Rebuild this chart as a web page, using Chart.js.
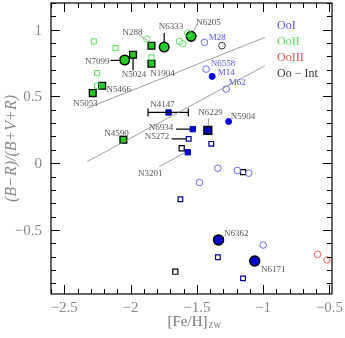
<!DOCTYPE html>
<html>
<head>
<meta charset="utf-8">
<script src="https://cdn.jsdelivr.net/npm/chart.js@4"></script>
<style>
  body { margin: 0; background: #fff; }
  canvas { display: block; }
</style>
</head>
<body>
<canvas id="ooChart" width="345" height="338"></canvas>
<script>
// tick values
const xTicks = [-2.5, -2, -1.5, -1, -0.5];
const yTicks = [-0.5, 0, 0.5, 1];

// OoII clusters
const greenOpenSquares = [[-2.277, 0.912], [-2.113, 0.862], [-1.842, 0.792], [-2.252, 0.675], [-2.252, 0.58]];
const greenOpenCircles = [[-1.877, 0.93], [-1.63, 0.912], [-1.606, 0.895], [-1.568, 0.975]];
const greenFilledSquares = [[-1.842, 0.88], [-1.981, 0.812], [-1.842, 0.745], [-2.214, 0.58], [-2.285, 0.525], [-2.054, 0.175]];
const greenBigCircles = [[-2.044, 0.773], [-1.746, 0.87], [-1.543, 0.95]];

// OoI clusters
const blueOpenCircles = [[-1.442, 0.905], [-1.43, 0.705], [-1.278, 0.555], [-1.341, -0.038], [-1.48, -0.145], [-1.194, -0.055], [-1.108, -0.075], [-0.999, -0.613]];
const blueOpenSquares = [[-1.561, 0.182], [-1.391, 0.145], [-1.624, -0.27], [-1.341, -0.705], [-1.151, -0.863]];
const blueFilledSquares = [[-1.713, 0.38], [-1.53, 0.255], [-1.568, 0.082]];
const blueBigSquares = [[-1.417, 0.245]];
const blueFilledCircles = [[-1.384, 0.65], [-1.26, 0.312]];
const blueBigCircles = [[-1.336, -0.575], [-1.063, -0.733]];

// OoIII and Oo-Int
const redOpenCircles = [[-0.589, -0.683], [-0.518, -0.725]];
const intOpenSquares = [[-1.614, 0.112], [-1.151, -0.067], [-1.662, -0.813]];
const intOpenCircles = [[-1.31, 0.88]];

// reference lines
const upperLine = [[-2.327, 0.412], [-0.987, 0.942]];
const lowerLine = [[-2.327, 0.012], [-0.987, 0.73]];

// N4147 error bar in [Fe/H]
const n4147Err = [[-1.868, 0.38], [-1.564, 0.38]];

// cluster names: text, x, y (text centre)
const blackLabels = [
    ['N288', -1.986, 0.98], ['N6333', -1.695, 1.02], ['N6205', -1.412, 1.05],
    ['N7099', -2.252, 0.762], ['N5024', -1.974, 0.662], ['N1904', -1.758, 0.67],
    ['N5466', -2.088, 0.55], ['N5053', -2.34, 0.445], ['N4147', -1.758, 0.437],
    ['N4590', -2.105, 0.225], ['N6934', -1.771, 0.27], ['N5272', -1.8, 0.2],
    ['N3201', -1.852, -0.075], ['N6229', -1.397, 0.38], ['N5904', -1.151, 0.345],
    ['N6362', -1.202, -0.525], ['N6171', -0.923, -0.795]
];
const blueLabels = [['M28', -1.346, 0.938], ['N6558', -1.303, 0.742], ['M14', -1.278, 0.675], ['M62', -1.194, 0.605]];

// leader lines: x1, y1, x2, y2, colour
const leaders = [
    [-1.936, 0.96, -1.847, 0.9, '#888'],
    [-1.746, 0.975, -1.746, 0.888, '#000'],
    [-1.5, 1.037, -1.538, 0.968, '#888'],
    [-2.151, 0.77, -2.067, 0.77, '#000'],
    [-1.981, 0.8, -1.981, 0.695, '#000'],
    [-1.657, 0.255, -1.543, 0.255, '#000'],
    [-1.69, 0.182, -1.574, 0.182, '#000'],
    [-1.784, -0.025, -1.594, 0.075, '#888'],
    [-1.41, 0.337, -1.414, 0.275, '#888']
];

const legendItems = [['OoI', '#5555dd'], ['OoII', '#55dd55'], ['OoIII', '#dd5555'], ['Oo \u2212 Int', '#333']];

const pts = (arr) => arr.map(p => ({ x: p[0], y: p[1] }));
const fmt = (v) => (v < 0 ? '\u2212' : '') + Math.abs(v);

const marks = (data, style, radius, fill, border, width) => ({
    data: pts(data),
    pointStyle: style,
    pointRadius: radius,
    pointBackgroundColor: fill,
    pointBorderColor: border,
    pointBorderWidth: width,
    showLine: false
});

const lineSet = (data, color, width) => ({
    data: pts(data),
    showLine: true,
    borderColor: color,
    borderWidth: width,
    pointRadius: 0
});

// frame, inward ticks, labels, legend and x title
const decorPlugin = {
    id: 'decor',
    beforeDatasetsDraw(chart) {
        const ctx = chart.ctx;
        const xs = chart.scales.x;
        const ys = chart.scales.y;
        ctx.save();
        leaders.forEach(l => {
            ctx.strokeStyle = l[4];
            ctx.lineWidth = l[4] === '#000' ? 1.2 : 0.8;
            ctx.beginPath();
            ctx.moveTo(xs.getPixelForValue(l[0]), ys.getPixelForValue(l[1]));
            ctx.lineTo(xs.getPixelForValue(l[2]), ys.getPixelForValue(l[3]));
            ctx.stroke();
        });
        ctx.restore();
    },
    afterDraw(chart) {
        const ctx = chart.ctx;
        const a = chart.chartArea;
        const xs = chart.scales.x;
        const ys = chart.scales.y;
        ctx.save();
        ctx.strokeStyle = '#000';
        ctx.lineWidth = 1.2;
        ctx.strokeRect(a.left, a.top, a.right - a.left, a.bottom - a.top);

        ctx.lineWidth = 1;
        ctx.beginPath();
        for (let i = -26; i <= -5; i++) {
            const px = Math.round(xs.getPixelForValue(i / 10)) + 0.5;
            const len = i % 5 === 0 ? 9 : 5;
            ctx.moveTo(px, a.bottom); ctx.lineTo(px, a.bottom - len);
            ctx.moveTo(px, a.top); ctx.lineTo(px, a.top + len);
        }
        for (let i = -9; i <= 12; i++) {
            const py = Math.round(ys.getPixelForValue(i / 10)) + 0.5;
            const len = i % 5 === 0 ? 9 : 5;
            ctx.moveTo(a.left, py); ctx.lineTo(a.left + len, py);
            ctx.moveTo(a.right, py); ctx.lineTo(a.right - len, py);
        }
        ctx.stroke();

        // tick labels
        ctx.fillStyle = '#888';
        ctx.font = '15px "Liberation Serif"';
        ctx.textBaseline = 'middle';
        ctx.textAlign = 'center';
        xTicks.forEach(v => ctx.fillText(fmt(v), xs.getPixelForValue(v), a.bottom + 14));
        ctx.textAlign = 'right';
        yTicks.forEach(v => ctx.fillText(fmt(v), a.left - 9, ys.getPixelForValue(v) + 1));

        // cluster names
        ctx.textAlign = 'center';
        ctx.font = '9px "Liberation Serif"';
        ctx.fillStyle = '#555';
        blackLabels.forEach(l => ctx.fillText(l[0], xs.getPixelForValue(l[1]), ys.getPixelForValue(l[2])));
        ctx.fillStyle = '#5555dd';
        blueLabels.forEach(l => ctx.fillText(l[0], xs.getPixelForValue(l[1]), ys.getPixelForValue(l[2])));

        // legend
        ctx.textAlign = 'left';
        ctx.font = '12px "Liberation Serif"';
        legendItems.forEach((item, i) => {
            ctx.fillStyle = item[1];
            ctx.fillText(item[0], a.right - 55, a.top + 23 + i * 16);
        });

        // x axis title with subscript
        ctx.fillStyle = '#777';
        ctx.font = '15px "Liberation Serif"';
        const main = '[Fe/H]';
        const w = ctx.measureText(main).width;
        const cx = (a.left + a.right) / 2 - 4;
        ctx.fillText(main, cx - w / 2, a.bottom + 28);
        ctx.font = '8px "Liberation Serif"';
        ctx.fillText('ZW', cx + w / 2 + 1, a.bottom + 32);
        ctx.restore();
    }
};

new Chart(document.getElementById('ooChart').getContext('2d'), {
    type: 'scatter',
    data: {
        datasets: [
            lineSet(upperLine, '#888', 0.8),
            lineSet(lowerLine, '#888', 0.8),
            {
                data: pts(n4147Err),
                showLine: true,
                borderColor: '#000',
                borderWidth: 1.2,
                pointStyle: 'line',
                rotation: 90,
                pointRadius: 4,
                pointBorderColor: '#000',
                pointBorderWidth: 1.2
            },
            marks(greenOpenSquares, 'rect', 3.6, 'rgba(0,0,0,0)', '#55e055', 1),
            marks(greenOpenCircles, 'circle', 3.3, 'rgba(0,0,0,0)', '#66e066', 1),
            marks(greenFilledSquares, 'rect', 4.8, '#22cc22', '#000', 1.3),
            marks(greenBigCircles, 'circle', 4.8, '#22cc22', '#000', 1.5),
            marks(blueOpenCircles, 'circle', 3.3, 'rgba(0,0,0,0)', '#6a6ae6', 1),
            marks(blueOpenSquares, 'rect', 3.3, 'rgba(0,0,0,0)', '#000099', 1.2),
            marks(blueFilledSquares, 'rect', 3.8, '#0000dd', '#0000aa', 1),
            marks(blueBigSquares, 'rect', 5.5, '#0000cc', '#000', 1.5),
            marks(blueFilledCircles, 'circle', 3, '#0000ee', '#0000ee', 1),
            marks(blueBigCircles, 'circle', 5, '#0000cc', '#000', 1.5),
            marks(redOpenCircles, 'circle', 3.3, 'rgba(0,0,0,0)', '#ee6666', 1),
            marks(intOpenSquares, 'rect', 3.6, 'rgba(0,0,0,0)', '#000', 1.2),
            marks(intOpenCircles, 'circle', 3.3, 'rgba(0,0,0,0)', '#333', 1)
        ]
    },
    options: {
        responsive: false,
        animation: false,
        layout: { autoPadding: false, padding: { top: 3, right: 13, left: 0, bottom: 0 } },
        plugins: {
            legend: { display: false },
            tooltip: { enabled: false }
        },
        scales: {
            x: {
                type: 'linear',
                min: -2.6,
                max: -0.48,
                grid: { display: false },
                border: { display: false },
                ticks: { display: false },
                afterFit: (scale) => { scale.height = 44; }
            },
            y: {
                min: -0.98,
                max: 1.2,
                grid: { display: false },
                border: { display: false },
                ticks: { display: false },
                afterFit: (scale) => { scale.width = 51; },
                title: {
                    display: true,
                    text: '(B\u2212R)/(B+V+R)',
                    color: '#888',
                    font: { family: 'Liberation Serif', size: 16, style: 'italic' },
                    padding: { top: 2, bottom: 0 }
                }
            }
        }
    },
    plugins: [decorPlugin]
});
</script>
</body>
</html>
